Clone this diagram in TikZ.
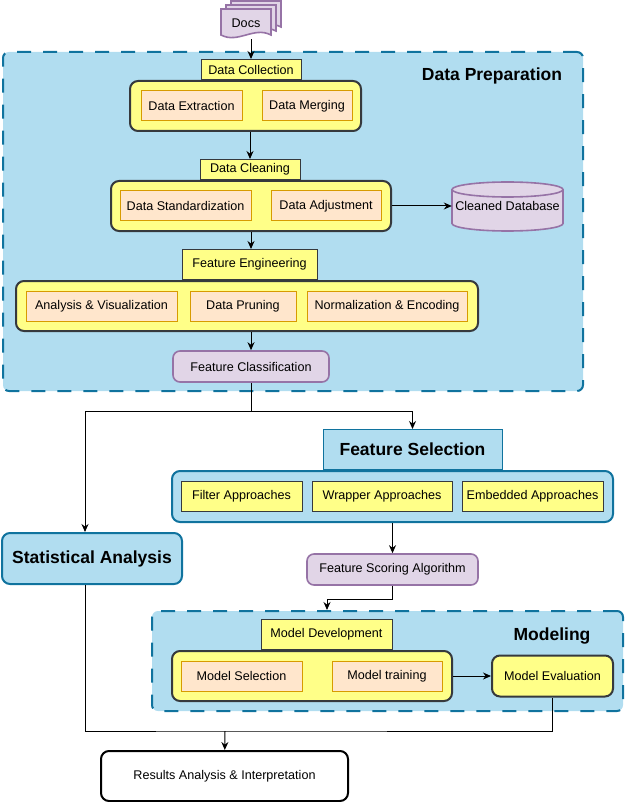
\documentclass[tikz,border=0pt]{standalone}
\usepackage{fontspec}
\setmainfont{Liberation Sans}
\usepackage{tikz}
\usetikzlibrary{positioning,arrows.meta,calc}

\definecolor{prepfill}{HTML}{B1DDF0}
\definecolor{prepline}{HTML}{10739E}
\definecolor{yelfill}{HTML}{FFFF88}
\definecolor{darkline}{HTML}{36393D}
\definecolor{orfill}{HTML}{FFE6CC}
\definecolor{orline}{HTML}{D79B00}
\definecolor{lavfill}{HTML}{E1D5E7}
\definecolor{lavline}{HTML}{9673A6}

\begin{document}
\begin{tikzpicture}[x=1pt,y=-1pt,font=\fontsize{12.6}{15}\selectfont]
\tikzset{
    container/.style={draw=prepline, fill=prepfill, line width=2pt, dash pattern=on 14pt off 12pt, rounded corners=6pt},
    phase/.style={draw=darkline, fill=yelfill, line width=2pt, rounded corners=8pt, inner sep=2pt},
    tab/.style={draw=darkline, fill=yelfill, line width=1pt, inner sep=2pt},
    task/.style={draw=orline, fill=orfill, line width=1pt, minimum height=30pt, inner sep=2pt},
    option/.style={draw=darkline, fill=yelfill, line width=1pt, minimum height=30pt, inner sep=2pt},
    proc/.style={draw=lavline, fill=lavfill, line width=1.6pt, rounded corners=7pt, minimum height=31pt, inner sep=2pt},
    bluebox/.style={draw=prepline, fill=prepfill, line width=2pt, rounded corners=8pt, inner sep=2pt},
    title/.style={font=\bfseries\fontsize{17.5}{20}\selectfont},
    dbshape/.style={draw=lavline, fill=lavfill, line width=1.6pt},
    arrow/.style={-{Stealth[length=8pt,width=7pt]}, line width=1pt},
    link/.style={line width=1pt}
}
\useasboundingbox (0,0) rectangle (631,802);

% containers
\node[container, minimum width=580pt, minimum height=339pt] (prep) at (293,221.5) {};
\node[container, minimum width=471pt, minimum height=100pt] (modeling) at (387.5,661) {};
\node[title] (preptitle) at (492,76) {Data Preparation};
\node[title] (modtitle) at (552,636) {Modeling};

% docs
\foreach \s in {10,5,0}
    \draw[dbshape, shift={(\s,-0.8*\s)}] (221,35) -- (221,9) -- (271,9) -- (271,35)
        .. controls (254,26) and (238,44) .. cycle;
\node[minimum width=50pt, minimum height=32pt] (docs) at (246,23) {Docs};

% data collection
\node[phase, minimum width=231pt, minimum height=50pt] (collect) at (245.5,106) {};
\node[tab, minimum width=100pt, minimum height=20pt, above=0pt of collect, xshift=5.5pt] (collecttab) {Data Collection};
\node[task, minimum width=101pt] (extract) at (191.5,106) {Data Extraction};
\node[task, minimum width=90pt] (merging) at (307,106) {Data Merging};

% data cleaning
\node[phase, minimum width=280pt, minimum height=50pt] (cleaning) at (251,206) {};
\node[tab, minimum width=100pt, minimum height=20pt, above=0pt of cleaning, xshift=-1pt] (cleantab) {Data Cleaning};
\node[task, minimum width=131pt] (standard) at (185.5,206) {Data Standardization};
\node[task, minimum width=110pt] (adjust) at (326,206) {Data Adjustment};

% cleaned database
\draw[dbshape] (452,189.5) -- (452,223.5) arc[start angle=180, end angle=360, x radius=55.5pt, y radius=7.5pt]
    -- (563,189.5) arc[start angle=0, end angle=180, x radius=55.5pt, y radius=7.5pt] -- cycle;
\draw[dbshape, fill=none] (452,189.5) arc[start angle=180, end angle=360, x radius=55.5pt, y radius=7.5pt];
\node[minimum width=111pt, minimum height=49pt] (cleandb) at (507.5,206) {Cleaned Database};

% feature engineering
\node[phase, minimum width=462pt, minimum height=50pt] (engineer) at (247,306) {};
\node[tab, minimum width=135pt, minimum height=30pt, above=0pt of engineer, xshift=2.5pt] (featuretab) {Feature Engineering};
\node[task, minimum width=151pt] (analysis) at (101.5,306) {Analysis \& Visualization};
\node[task, minimum width=106pt] (pruning) at (243,306) {Data Pruning};
\node[task, minimum width=160pt] (normal) at (387,306) {Normalization \& Encoding};

\node[proc, minimum width=156pt] (featclass) at (251,366.5) {Feature Classification};

% feature selection
\node[bluebox, minimum width=441pt, minimum height=51pt] (fsbox) at (392.5,496.5) {};
\node[draw=prepline, fill=prepfill, line width=1pt, title, minimum width=179pt, minimum height=40pt, above=0pt of fsbox, xshift=20pt] (selecttab) {Feature Selection};
\node[option, minimum width=121pt] (filter) at (241.5,496) {Filter Approaches};
\node[option, minimum width=140pt] (wrapper) at (382,496) {Wrapper Approaches};
\node[option, minimum width=141pt] (embedded) at (532.5,496) {Embedded Approaches};

\node[proc, minimum width=171pt] (scoring) at (392.5,569.5) {Feature Scoring Algorithm};
\node[bluebox, title, minimum width=180pt, minimum height=51pt] (stat) at (92,558.5) {Statistical Analysis};

% modeling
\node[phase, minimum width=280pt, minimum height=50pt] (develop) at (312,676) {};
\node[tab, minimum width=131pt, minimum height=30pt, above=0pt of develop, xshift=14.5pt] (devtab) {Model Development};
\node[task, minimum width=121pt] (select) at (241.5,676) {Model Selection};
\node[task, minimum width=110pt] (training) at (387,676) {Model training};
\node[phase, minimum width=121pt, minimum height=41pt] (eval) at (552.5,676) {Model Evaluation};

\node[draw=black, fill=white, line width=2pt, rounded corners=8pt, minimum width=247pt, minimum height=50pt] (results) at (224.5,776) {Results Analysis \& Interpretation};

% connectors
\draw[arrow] (docs.south -| collecttab.north) -- (collecttab.north);
\draw[arrow] (collect.south -| cleantab.north) -- (cleantab.north);
\draw[arrow] (cleaning.east) -- (cleandb.west);
\draw[arrow] (cleaning.south) -- (cleaning.south |- featuretab.north);
\draw[arrow] (engineer.south -| featclass.north) -- (featclass.north);
\coordinate (split) at (251,411);
\draw[link] (featclass.south) -- (split);
\draw[arrow] (split) -| ([xshift=-7pt]stat.north);
\draw[arrow] (split) -| (selecttab.north);
\draw[arrow] (fsbox) -- (scoring);
\coordinate (bend) at (392.5,599);
\draw[arrow] (scoring.south) -- (bend) -| ([xshift=-60.5pt]modeling.north);
\draw[arrow] (develop) -- (eval);
\coordinate (merge) at (225,731);
\draw[link] ([xshift=-7pt]stat.south) |- (merge) -| (eval.south);
\draw[arrow] (merge) -- (results);
\end{tikzpicture}
\end{document}
